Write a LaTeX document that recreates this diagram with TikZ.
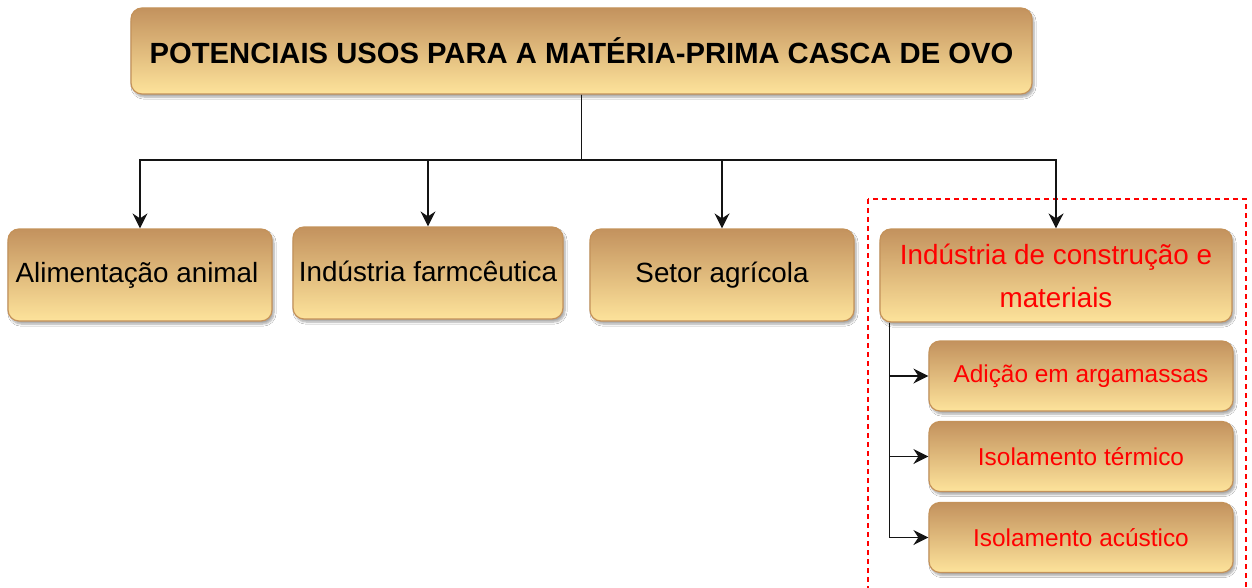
\documentclass[tikz,border=0pt]{standalone}
\usepackage{fontspec}
\setmainfont{Liberation Sans}
\usetikzlibrary{arrows.meta,shadows.blur}
\definecolor{boxtop}{RGB}{195,146,94}
\definecolor{boxbot}{RGB}{253,227,155}
\definecolor{boxline}{RGB}{196,146,90}
\definecolor{redtxt}{RGB}{255,0,0}
\definecolor{linecol}{RGB}{20,20,20}
\begin{document}
\begin{tikzpicture}[x=1pt,y=-1pt,
  box/.style={draw=boxline, line width=1.2pt, rounded corners=11pt,
    top color=boxtop, bottom color=boxbot,
    blur shadow={shadow xshift=2pt, shadow yshift=-3pt, shadow blur steps=6, shadow opacity=35},
    inner sep=0pt, align=center},
  big/.style={box, font=\fontsize{27.8}{43}\selectfont},
  small/.style={box, minimum width=304pt, minimum height=70pt, text=redtxt, font=\fontsize{24.4}{30}\selectfont},
  conn/.style={draw=linecol, line width=1.8pt, -{Stealth[length=15pt,width=15pt,inset=5pt]}}]
\useasboundingbox (0,0) rectangle (1252,588);
\clip (0,0) rectangle (1252,588);
\fill[white] (0,0) rectangle (1252,588);
% dashed group frame
\draw[redtxt, line width=1.2pt, dash pattern=on 5pt off 4pt] (868,199) rectangle (1246,600);
\node[box, minimum width=901pt, minimum height=86pt, font=\bfseries\fontsize{29.2}{34}\selectfont] (title) at (581.5,51) {POTENCIAIS USOS PARA A MATÉRIA-PRIMA CASCA DE OVO};
\node[big, minimum width=264pt, minimum height=92pt] (a) at (140,275) {\hspace*{-6pt}Alimentação animal};
\node[big, minimum width=270pt, minimum height=92pt] (b) at (428,273) {\raisebox{3pt}{Indústria farmcêutica}};
\node[big, minimum width=264pt, minimum height=92pt] (c) at (722,275) {Setor agrícola};
\node[big, minimum width=352pt, minimum height=93pt, text=redtxt] (d) at (1056,275.5) {Indústria de construção e\\materiais};
\node[small] (s1) at (1081,376) {Adição em argamassas};
\node[small] (s2) at (1081,456.5) {Isolamento térmico};
\node[small] (s3) at (1081,537.5) {Isolamento acústico};
\coordinate (bus) at (581.5,160);
\draw[conn] (title.south) -- (bus) -| (a.north);
\draw[conn] (title.south) -- (bus) -| (b.north);
\draw[conn] (title.south) -- (bus) -| (c.north);
\draw[conn] (title.south) -- (bus) -| (d.north);
\coordinate (v) at ([xshift=10pt]d.south west);
\draw[conn] (v) |- (s1.west);
\draw[conn] (v) |- (s2.west);
\draw[conn] (v) |- (s3.west);
\end{tikzpicture}
\end{document}
